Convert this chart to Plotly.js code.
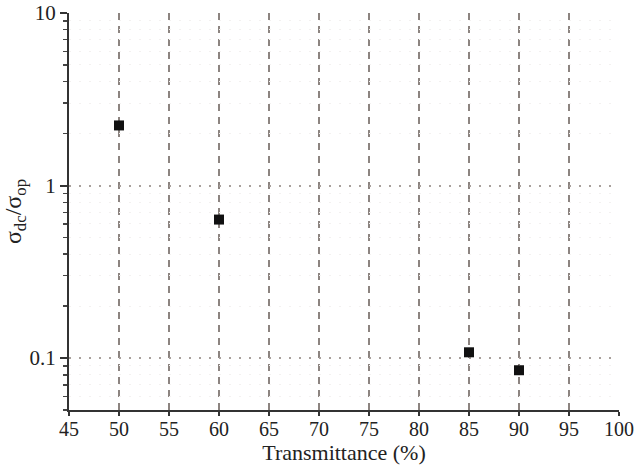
<!DOCTYPE html>
<html>
<head>
<meta charset="utf-8">
<script src="https://cdn.plot.ly/plotly-3.0.1.min.js"></script>
<style>
  html, body { margin: 0; padding: 0; background: #fff; }
  #plot { width: 640px; height: 465px; }
</style>
</head>
<body>
<div id="plot"></div>
<script>
// data
const transmittance = [50, 60, 85, 90];
const ratio = [2.23, 0.635, 0.108, 0.085];

const xTicks = [45, 50, 55, 60, 65, 70, 75, 80, 85, 90, 95, 100];
const xGrid = [50, 55, 60, 65, 70, 75, 80, 85, 90, 95];
const yTicks = [0.1, 1, 10];
const yTickText = ["0.1", "1", "10"];

const serif = "Liberation Serif";

const traces = [{
  type: "scatter",
  mode: "markers",
  x: transmittance,
  y: ratio,
  marker: { symbol: "square", size: 10, color: "#111" },
  showlegend: false
}];

const layout = {
  width: 640,
  height: 465,
  margin: { l: 69, r: 21, t: 13, b: 55 },
  paper_bgcolor: "#fff",
  plot_bgcolor: "#fff",
  font: { family: serif, color: "#222", size: 21 },
  xaxis: {
    range: [45, 100],
    tickvals: xTicks,
    ticktext: xTicks.map(String),
    showgrid: false,
    zeroline: false,
    showline: true,
    linecolor: "#333",
    linewidth: 2,
    ticks: "outside",
    ticklen: 4,
    tickwidth: 2,
    tickcolor: "#333",
    ticklabelstandoff: -4,
    tickfont: { family: serif, size: 20 },
    minor: {
      tickvals: xGrid,
      ticks: "",
      showgrid: true,
      gridcolor: "#8c8480",
      griddash: "7px,6px",
      gridwidth: 1.5
    },
    title: { text: "Transmittance (%)", font: { family: serif, size: 22 }, standoff: 4 }
  },
  yaxis: {
    type: "log",
    range: [Math.log10(0.05), 1],
    tickvals: yTicks,
    ticktext: yTickText,
    showgrid: true,
    gridcolor: "#a8a09c",
    griddash: "2px,8px",
    gridwidth: 2,
    zeroline: false,
    showline: true,
    linecolor: "#333",
    linewidth: 2,
    ticks: "outside",
    ticklen: 7,
    tickwidth: 2,
    tickcolor: "#333",
    tickfont: { family: serif, size: 21 },
    minor: {
      dtick: "D1",
      ticks: "outside",
      ticklen: 4,
      tickwidth: 1.5,
      tickcolor: "#444",
      showgrid: true,
      gridcolor: "#f3f1f0",
      gridwidth: 1
    },
    title: { text: "σ<sub>dc</sub>/σ<sub>op</sub>", font: { family: serif, size: 24 }, standoff: 6 }
  }
};

Plotly.newPlot("plot", traces, layout, { displayModeBar: false, staticPlot: true });
</script>
</body>
</html>
